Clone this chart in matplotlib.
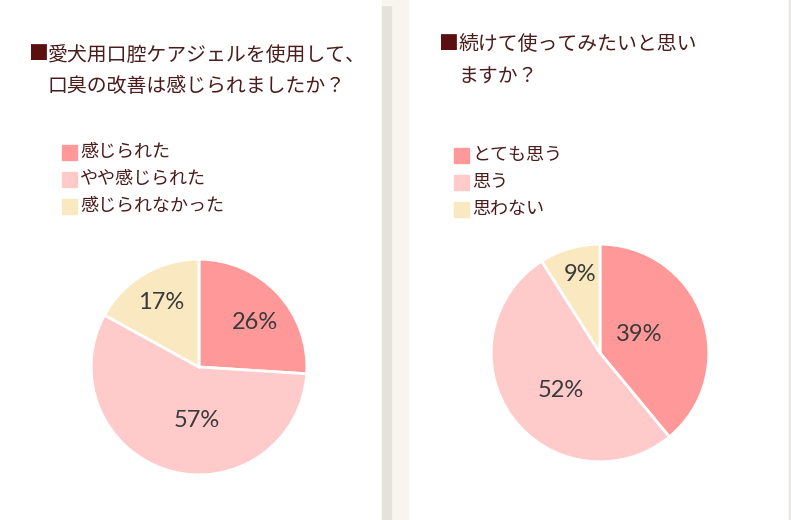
import numpy as np
import matplotlib.pyplot as plt
from matplotlib.patches import Rectangle

plt.rcParams['font.family'] = ['Noto Sans CJK JP', 'DejaVu Sans']

# data
left_title = ['■愛犬用口腔ケアジェルを使用して、', '口臭の改善は感じられましたか？']
left_labels = ['感じられた', 'やや感じられた', '感じられなかった']
left_values = [26, 57, 17]

right_title = ['■続けて使ってみたいと思い', 'ますか？']
right_labels = ['とても思う', '思う', '思わない']
right_values = [39, 52, 9]

colors = ['#ff9999', '#ffcaca', '#f9e8c0']
text_col = '#4a1c1c'
sq_col = '#5a1010'
pct_col = '#3a3a3a'

W, H = 791, 520
fig = plt.figure(figsize=(W / 100, H / 100), dpi=100)
fig.patch.set_facecolor('white')

# background strips between panels
fig.patches.append(Rectangle((391 / W, 0), 17 / W, 1, transform=fig.transFigure,
                             color='#f8f5ee', zorder=0))
fig.patches.append(Rectangle((382 / W, 0), 9 / W, 1 - 5 / H, transform=fig.transFigure,
                             color='#e5e2dc', zorder=0))
fig.patches.append(Rectangle((382 / W, 1 - 5 / H), 9 / W, 5 / H, transform=fig.transFigure,
                             color='#f8f5ee', zorder=0))
fig.patches.append(Rectangle((789 / W, 0), 2 / W, 1, transform=fig.transFigure,
                             color='#e8e6e3', zorder=0))


def fx(px):
    return px / W


def fy(py):
    return 1 - py / H


def draw_panel(title, labels, values, tx, ty, lx, ly, cx, cy, r, label_pos):
    # title
    fig.text(fx(tx), fy(ty[0]), title[0][1:], fontsize=14.3, color=text_col,
             va='center', ha='left')
    fig.text(fx(tx - 20), fy(ty[0]), '■', fontsize=14.3, color=sq_col,
             va='center', ha='left')
    fig.text(fx(tx), fy(ty[1]), title[1], fontsize=14.3, color=text_col,
             va='center', ha='left')
    # legend
    for i, lab in enumerate(labels):
        y = ly + i * 27
        fig.patches.append(Rectangle((fx(lx), fy(y + 7.5)), 15 / W, 15 / H,
                                     transform=fig.transFigure, color=colors[i]))
        fig.text(fx(lx + 18), fy(y), lab, fontsize=13, color=text_col,
                 va='center', ha='left')
    # pie
    ax = fig.add_axes([fx(cx - r), fy(cy + r), 2 * r / W, 2 * r / H])
    wedges, texts, autotexts = ax.pie(
        values, colors=colors, startangle=90, counterclock=False,
        autopct='%d%%', pctdistance=0.6,
        wedgeprops=dict(edgecolor='white', linewidth=2),
        textprops=dict(color=pct_col, fontsize=17, family=['Lato', 'DejaVu Sans']))
    for t, w, (k, dang) in zip(autotexts, wedges, label_pos):
        ang = np.deg2rad((w.theta1 + w.theta2) / 2 + dang)
        t.set_position((k * np.cos(ang), k * np.sin(ang)))
    ax.set_xlim(-1.02, 1.02)
    ax.set_ylim(-1.02, 1.02)
    ax.set_aspect('equal')
    ax.axis('off')


draw_panel(left_title, left_labels, left_values,
           tx=48, ty=[55, 87], lx=62, ly=152, cx=199, cy=367, r=110,
           label_pos=[(0.66, -5), (0.5, 14), (0.69, 0)])
draw_panel(right_title, right_labels, right_values,
           tx=458, ty=[45, 77], lx=454, ly=155, cx=600, cy=353, r=111,
           label_pos=[(0.4, 5), (0.5, 8), (0.74, -2)])

fig.savefig('out.png', dpi=100, facecolor='white')
